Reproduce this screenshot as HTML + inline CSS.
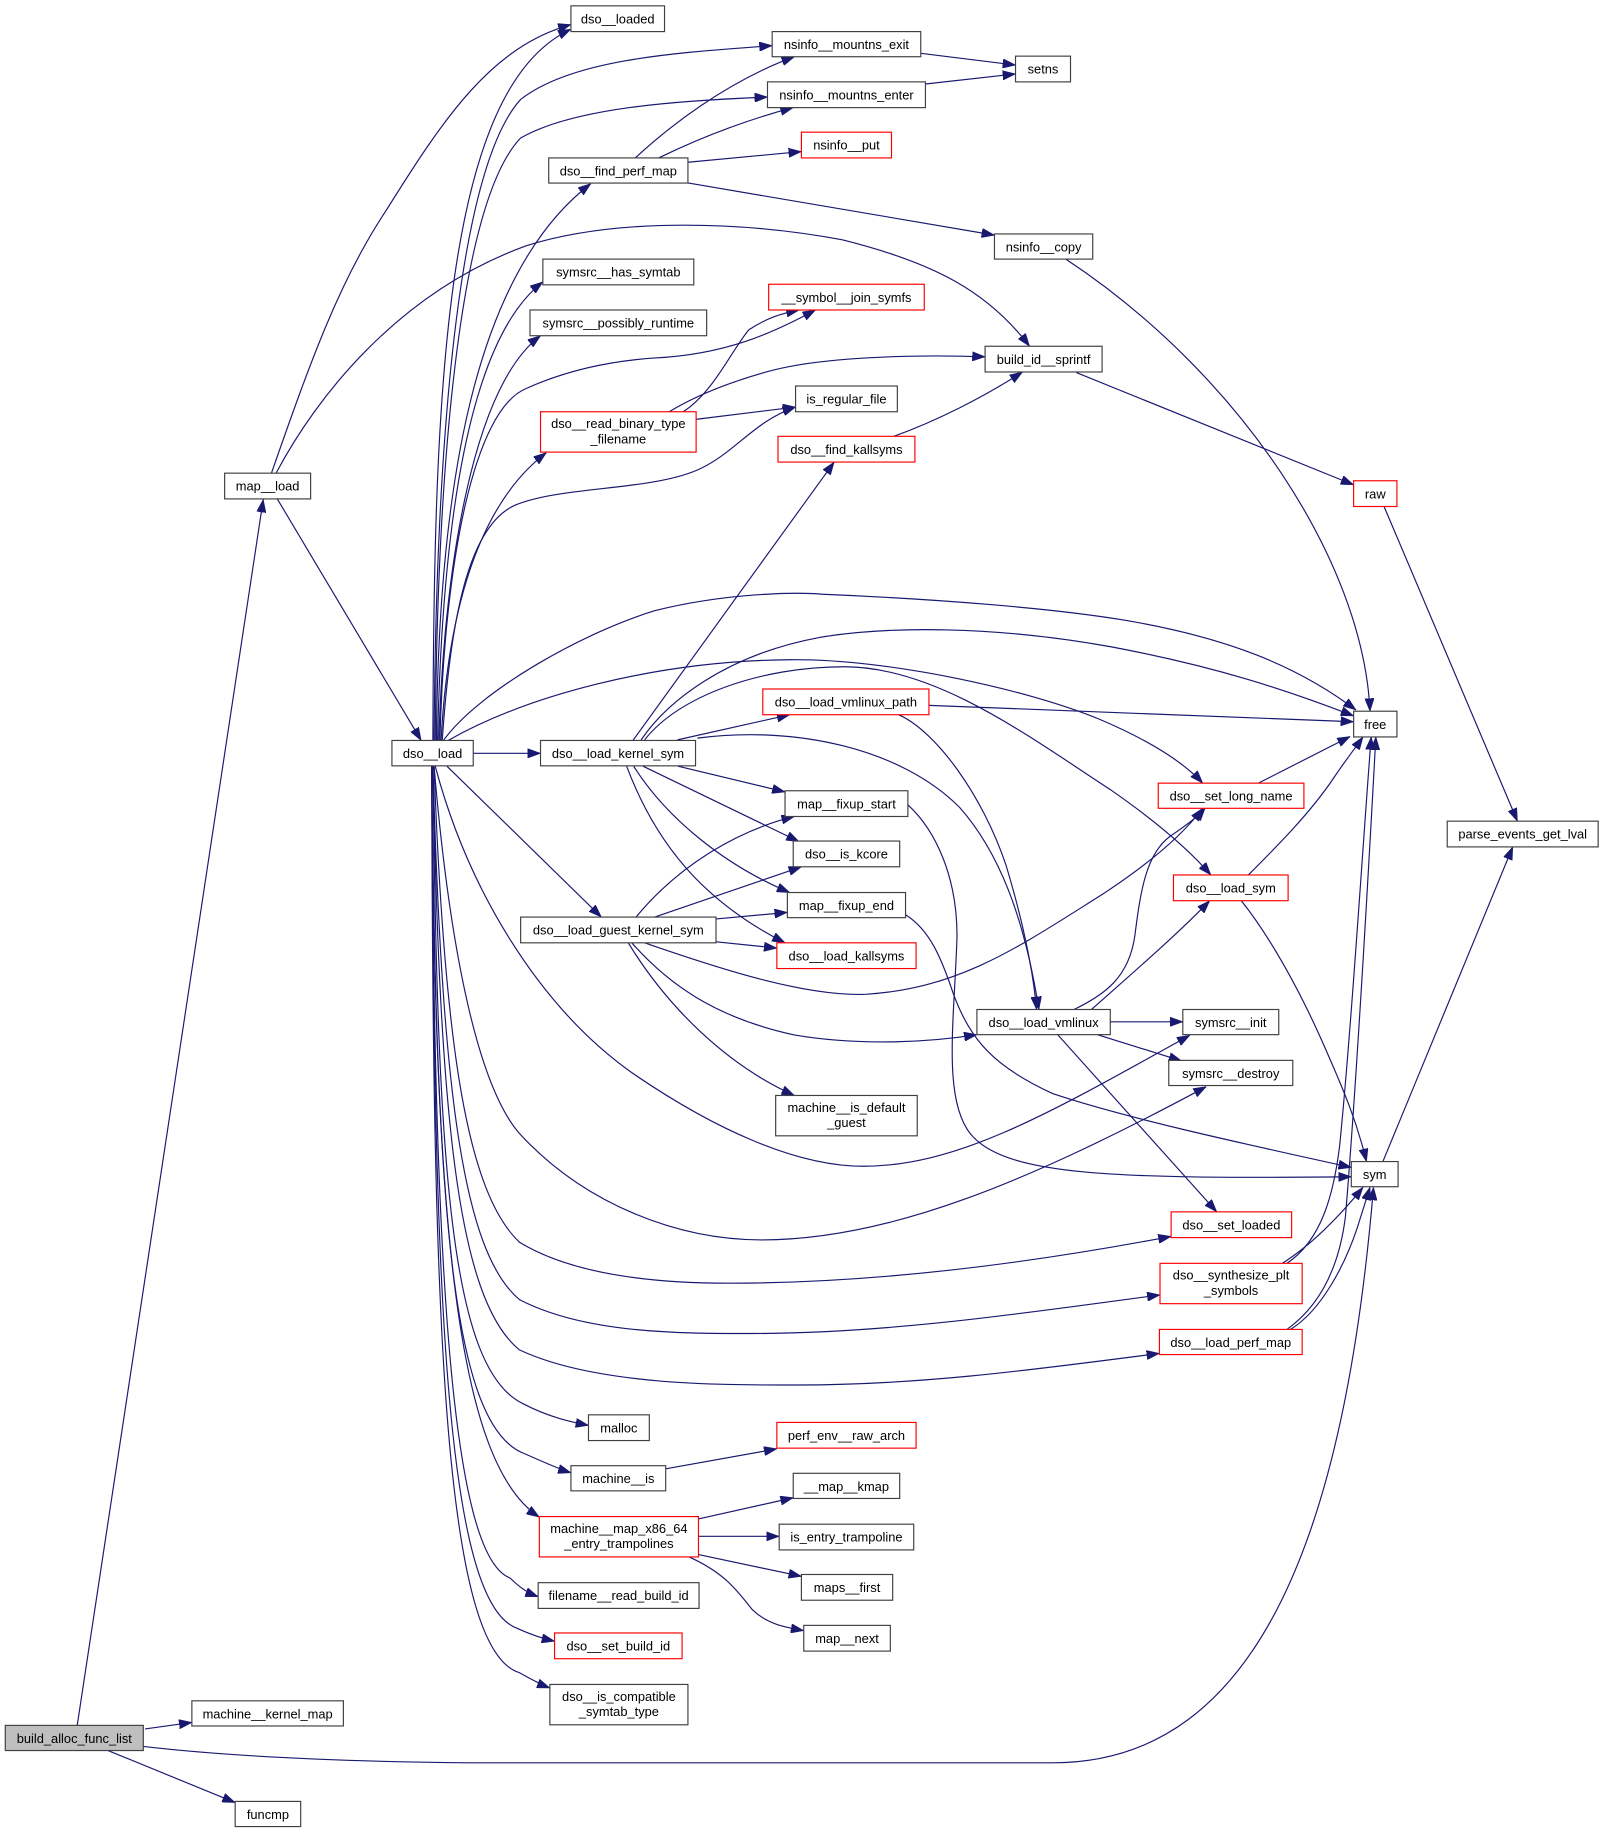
<!DOCTYPE html>
<html>
<head>
<meta charset="utf-8">
<style>
html,body{margin:0;padding:0;background:#fff;}
svg{display:block;}
text{font-family:"Liberation Sans",Arial,sans-serif;font-size:11px;fill:#000;}
.e{fill:none;stroke:#191970;stroke-width:1;}
.n{fill:#fff;stroke:#404040;stroke-width:1;}
.r{fill:#fff;stroke:#ff0000;stroke-width:1;}
.g{fill:#bfbfbf;stroke:#404040;stroke-width:1;}
</style>
</head>
<body>
<svg xmlns="http://www.w3.org/2000/svg" width="1604" height="1833" viewBox="0 0 1371 1567" preserveAspectRatio="none">
<defs>
<marker id="a" viewBox="0 0 11 8" refX="11" refY="4" markerWidth="11" markerHeight="8" markerUnits="userSpaceOnUse" orient="auto">
<path d="M0,0 L11,4 L0,8 z" fill="#191970" stroke="#191970" stroke-width="0.5"/>
</marker>
</defs>
<rect x="0" y="0" width="1371" height="1567" fill="#fff"/>
<g marker-end="url(#a)">
<path class="e" marker-end="url(#a)" d="M66,1475 L225,427"/>
<path class="e" marker-end="url(#a)" d="M124,1478 L164,1472.5"/>
<path class="e" marker-end="url(#a)" d="M92.6,1496.6 L201,1541"/>
<path class="e" marker-end="url(#a)" d="M122.5,1493 C200,1502 300,1506 400,1507 L900,1507 C1080,1507 1150,1300 1174,1015"/>
<path class="e" marker-end="url(#a)" d="M237,426.5 L360,633"/>
<path class="e" marker-end="url(#a)" d="M232,404.5 C265,310 290,240 330,180 C380,100 420,40 488,21"/>
<path class="e" marker-end="url(#a)" d="M236,404.5 C270,340 340,250 450,210 C530,185 640,190 720,205 C800,225 845,250 880,296"/>
<path class="e" marker-end="url(#a)" d="M370,633 C371,330 380,75 488,25"/>
<path class="e" marker-end="url(#a)" d="M371,633 C373,350 395,140 445,85 C490,50 580,45 660,39"/>
<path class="e" marker-end="url(#a)" d="M372,633 C374,380 395,170 445,118 C490,92 580,86 656,83"/>
<path class="e" marker-end="url(#a)" d="M373,633 C375,400 410,230 505,157"/>
<path class="e" marker-end="url(#a)" d="M374,633 C378,450 400,290 464,241"/>
<path class="e" marker-end="url(#a)" d="M375,633 C380,480 405,330 462,287"/>
<path class="e" marker-end="url(#a)" d="M376,633 C380,480 405,350 450,332 C490,314 530,308 560,306 C620,303 660,285 697,265"/>
<path class="e" marker-end="url(#a)" d="M377,633 C383,520 410,430 467,387"/>
<path class="e" marker-end="url(#a)" d="M378,633 C385,530 400,450 440,432 C480,415 560,420 600,400 C630,385 645,360 680,348"/>
<path class="e" marker-end="url(#a)" d="M379,633 C410,590 500,540 560,522 C620,507 680,506 703,508 C800,512 900,520 960,530 C1050,545 1110,570 1159,607"/>
<path class="e" marker-end="url(#a)" d="M383,633 C450,595 560,565 675,564 C760,563 880,590 940,615 C980,632 1010,650 1028,669.5"/>
<path class="e" marker-end="url(#a)" d="M404.5,644 L462,644"/>
<path class="e" marker-end="url(#a)" d="M382,655 L514,784"/>
<path class="e" marker-end="url(#a)" d="M372,655 C400,760 460,860 540,917 C610,965 680,997 738,997 C820,997 900,950 1017,885"/>
<path class="e" marker-end="url(#a)" d="M371,655 C385,820 410,930 444,969 C500,1030 580,1060 651,1060 C760,1060 880,1010 1031,929"/>
<path class="e" marker-end="url(#a)" d="M371,655 C380,900 400,1020 444,1062 C490,1090 560,1097 623,1097 C750,1097 880,1080 1001,1057"/>
<path class="e" marker-end="url(#a)" d="M370,655 C378,930 395,1070 444,1111 C500,1140 580,1140 643,1140 C760,1140 880,1122 991.5,1107"/>
<path class="e" marker-end="url(#a)" d="M370,655 C376,950 390,1110 444,1154 C510,1185 620,1184 683,1184 C790,1184 890,1170 991,1157"/>
<path class="e" marker-end="url(#a)" d="M370,655 C374,1000 385,1170 447,1200 C470,1212 490,1216 503,1218.5"/>
<path class="e" marker-end="url(#a)" d="M369,655 C373,1030 385,1220 449,1243 C465,1250 478,1256 488,1259"/>
<path class="e" marker-end="url(#a)" d="M369,655 C372,1050 390,1250 461,1297"/>
<path class="e" marker-end="url(#a)" d="M369,655 C371,1080 385,1330 436,1349 C445,1358 452,1362 460,1365"/>
<path class="e" marker-end="url(#a)" d="M369,655 C371,1100 380,1370 442,1392 C455,1398 465,1401 474,1403"/>
<path class="e" marker-end="url(#a)" d="M369,655 C370,1120 378,1410 444,1430 C455,1436 462,1440 470,1443"/>
<path class="e" marker-end="url(#a)" d="M541,633 L713,395"/>
<path class="e" marker-end="url(#a)" d="M579,632.5 L675,611"/>
<path class="e" marker-end="url(#a)" d="M548,632.5 C570,600 620,560 700,545 C760,535 850,535 950,553 C1040,570 1100,590 1157,612"/>
<path class="e" marker-end="url(#a)" d="M551,632.5 C580,595 650,570 722,570 C800,570 880,630 949,675 C985,700 1015,725 1035,748"/>
<path class="e" marker-end="url(#a)" d="M596,631 C680,620 770,640 820,690 C860,735 878,800 888,863"/>
<path class="e" marker-end="url(#a)" d="M579.5,655 L671,677"/>
<path class="e" marker-end="url(#a)" d="M549.6,655 L683,719.5"/>
<path class="e" marker-end="url(#a)" d="M541.6,655 C570,700 620,740 675,763"/>
<path class="e" marker-end="url(#a)" d="M535.6,655 C560,720 600,770 671,806"/>
<path class="e" marker-end="url(#a)" d="M543.6,784 C580,740 630,710 679,698"/>
<path class="e" marker-end="url(#a)" d="M559.6,784 L685,741"/>
<path class="e" marker-end="url(#a)" d="M611,785.7 L673,780"/>
<path class="e" marker-end="url(#a)" d="M611,805 L664,810.5"/>
<path class="e" marker-end="url(#a)" d="M540,806 C570,840 610,870 680,885 C740,895 800,890 835,884.5"/>
<path class="e" marker-end="url(#a)" d="M537,806 C570,860 620,910 679,936.5"/>
<path class="e" marker-end="url(#a)" d="M551,806 C620,830 690,852 740,850 C820,845 870,810 940,766 C980,740 1010,715 1028,691"/>
<path class="e" marker-end="url(#a)" d="M794,603 L1157,617"/>
<path class="e" marker-end="url(#a)" d="M768,611 C800,625 840,680 860,740 C875,790 883,830 886,863"/>
<path class="e" marker-end="url(#a)" d="M949,873.5 L1011,873.5"/>
<path class="e" marker-end="url(#a)" d="M938,884.5 L1010,907"/>
<path class="e" marker-end="url(#a)" d="M904,884.5 L1040,1036"/>
<path class="e" marker-end="url(#a)" d="M918,863 C945,850 965,835 970,800 C975,760 980,730 1000,715 C1015,705 1025,697 1030,691"/>
<path class="e" marker-end="url(#a)" d="M933,863 C970,830 1005,800 1034,770"/>
<path class="e" marker-end="url(#a)" d="M776,688 C800,710 818,750 818,800 C816,870 805,940 830,970 C860,1005 950,1008 1155,1006"/>
<path class="e" marker-end="url(#a)" d="M774,782 C795,795 805,820 815,850 C830,890 850,912 900,935 C960,955 1050,975 1155,998"/>
<path class="e" marker-end="url(#a)" d="M1075.6,669.5 L1154,629.6"/>
<path class="e" marker-end="url(#a)" d="M1067,748 C1090,725 1120,695 1140,665 C1150,650 1158,640 1165,630"/>
<path class="e" marker-end="url(#a)" d="M1061,770 C1085,800 1110,845 1130,890 C1150,935 1160,960 1168,993"/>
<path class="e" marker-end="url(#a)" d="M1100,1080 C1130,1060 1140,1020 1145,980 C1155,880 1165,720 1172,630"/>
<path class="e" marker-end="url(#a)" d="M1100,1136.5 C1130,1115 1145,1080 1150,1040 C1160,920 1170,740 1176,630"/>
<path class="e" marker-end="url(#a)" d="M1096,1080 C1120,1065 1145,1040 1165,1015"/>
<path class="e" marker-end="url(#a)" d="M1103,1136.5 C1130,1120 1150,1080 1160,1050 L1171,1015"/>
<path class="e" marker-end="url(#a)" d="M1182,993 L1293,724"/>
<path class="e" marker-end="url(#a)" d="M1183,433 L1297,702"/>
<path class="e" marker-end="url(#a)" d="M920,318.5 L1157,414.5"/>
<path class="e" marker-end="url(#a)" d="M911,221.5 C1060,320 1165,480 1171,608"/>
<path class="e" marker-end="url(#a)" d="M764,373 C800,360 840,340 874,318"/>
<path class="e" marker-end="url(#a)" d="M595.4,358.4 L680,348"/>
<path class="e" marker-end="url(#a)" d="M584,352 C610,335 625,300 640,282 C655,272 668,268 683,265"/>
<path class="e" marker-end="url(#a)" d="M572,352 C600,335 630,325 655,318 C700,305 780,303 842,305"/>
<path class="e" marker-end="url(#a)" d="M543,135 C570,110 620,70 679,48.5"/>
<path class="e" marker-end="url(#a)" d="M563,135 C600,117 640,102 678,92"/>
<path class="e" marker-end="url(#a)" d="M588,138.7 L685,129.6"/>
<path class="e" marker-end="url(#a)" d="M588,156.4 L850,201"/>
<path class="e" marker-end="url(#a)" d="M787,45.6 L868,55.6"/>
<path class="e" marker-end="url(#a)" d="M791,71.8 L868,63.2"/>
<path class="e" marker-end="url(#a)" d="M569,1255.7 L664,1238.6"/>
<path class="e" marker-end="url(#a)" d="M597,1298.5 L678,1280.4"/>
<path class="e" marker-end="url(#a)" d="M597,1313.4 L666,1313.4"/>
<path class="e" marker-end="url(#a)" d="M597,1329 L685,1347.6"/>
<path class="e" marker-end="url(#a)" d="M589,1331 C620,1345 630,1360 643,1376 C655,1388 670,1391 687,1394"/>
</g>

<g>
<rect class="g" x="4.5" y="1475" width="118" height="21.5"/><text x="63.5" y="1490" text-anchor="middle">build_alloc_func_list</text>
<rect class="n" x="164" y="1454" width="129.5" height="21.5"/><text x="228.75" y="1469" text-anchor="middle">machine__kernel_map</text>
<rect class="n" x="201" y="1540" width="56" height="21.5"/><text x="229" y="1555" text-anchor="middle">funcmp</text>
<rect class="n" x="192" y="404.5" width="73.5" height="22"/><text x="228.75" y="419.5" text-anchor="middle">map__load</text>
<rect class="n" x="335" y="633" width="69.5" height="21.7"/><text x="369.75" y="648" text-anchor="middle">dso__load</text>
<rect class="n" x="488" y="5" width="80" height="22"/><text x="528" y="20" text-anchor="middle">dso__loaded</text>
<rect class="n" x="660" y="27" width="127" height="21.5"/><text x="723.5" y="42" text-anchor="middle">nsinfo__mountns_exit</text>
<rect class="n" x="656" y="70" width="135" height="22"/><text x="723.5" y="85" text-anchor="middle">nsinfo__mountns_enter</text>
<rect class="n" x="868" y="48" width="47" height="22"/><text x="891.5" y="63" text-anchor="middle">setns</text>
<rect class="n" x="469" y="135" width="119" height="21.5"/><text x="528.5" y="150" text-anchor="middle">dso__find_perf_map</text>
<rect class="r" x="685" y="113" width="77" height="22"/><text x="723.5" y="128" text-anchor="middle">nsinfo__put</text>
<rect class="n" x="850" y="200" width="84" height="21.5"/><text x="892" y="215" text-anchor="middle">nsinfo__copy</text>
<rect class="n" x="464" y="221.5" width="129" height="22"/><text x="528.5" y="236.5" text-anchor="middle">symsrc__has_symtab</text>
<rect class="n" x="453" y="265" width="151" height="22"/><text x="528.5" y="280" text-anchor="middle">symsrc__possibly_runtime</text>
<rect class="r" x="657" y="243" width="133" height="22"/><text x="723.5" y="258" text-anchor="middle">__symbol__join_symfs</text>
<rect class="n" x="842" y="296" width="100" height="22"/><text x="892" y="311" text-anchor="middle">build_id__sprintf</text>
<rect class="r" x="462" y="352" width="133" height="34.5"/><text x="528.5" y="366" text-anchor="middle">dso__read_binary_type</text><text x="528.5" y="379" text-anchor="middle">_filename</text>
<rect class="n" x="680" y="330" width="87" height="22"/><text x="723.5" y="345" text-anchor="middle">is_regular_file</text>
<rect class="r" x="665" y="373" width="117" height="22"/><text x="723.5" y="388" text-anchor="middle">dso__find_kallsyms</text>
<rect class="r" x="1157" y="411" width="37" height="22"/><text x="1175.5" y="426" text-anchor="middle">raw</text>
<rect class="n" x="1157" y="608" width="37" height="22"/><text x="1175.5" y="623" text-anchor="middle">free</text>
<rect class="n" x="1237" y="702" width="129" height="22"/><text x="1301.5" y="717" text-anchor="middle">parse_events_get_lval</text>
<rect class="r" x="652" y="589" width="142" height="22"/><text x="723" y="604" text-anchor="middle">dso__load_vmlinux_path</text>
<rect class="n" x="462" y="633" width="132.5" height="21.7"/><text x="528.25" y="648" text-anchor="middle">dso__load_kernel_sym</text>
<rect class="r" x="990" y="669.5" width="124.5" height="21.5"/><text x="1052.25" y="684.5" text-anchor="middle">dso__set_long_name</text>
<rect class="n" x="671" y="676" width="105" height="22"/><text x="723.5" y="691" text-anchor="middle">map__fixup_start</text>
<rect class="n" x="678" y="719" width="91" height="22"/><text x="723.5" y="734" text-anchor="middle">dso__is_kcore</text>
<rect class="r" x="1003" y="748" width="98" height="22"/><text x="1052" y="763" text-anchor="middle">dso__load_sym</text>
<rect class="n" x="673" y="763" width="101" height="21.5"/><text x="723.5" y="778" text-anchor="middle">map__fixup_end</text>
<rect class="n" x="445" y="784" width="167" height="22"/><text x="528.5" y="799" text-anchor="middle">dso__load_guest_kernel_sym</text>
<rect class="r" x="664" y="806" width="119" height="22"/><text x="723.5" y="821" text-anchor="middle">dso__load_kallsyms</text>
<rect class="n" x="835" y="863" width="114" height="21.5"/><text x="892" y="878" text-anchor="middle">dso__load_vmlinux</text>
<rect class="n" x="1011" y="863" width="82" height="21.5"/><text x="1052" y="878" text-anchor="middle">symsrc__init</text>
<rect class="n" x="999" y="906.5" width="106" height="21.5"/><text x="1052" y="921.5" text-anchor="middle">symsrc__destroy</text>
<rect class="n" x="663" y="936.5" width="121" height="34.5"/><text x="723.5" y="950.5" text-anchor="middle">machine__is_default</text><text x="723.5" y="963.5" text-anchor="middle">_guest</text>
<rect class="n" x="1155" y="993" width="40" height="21.5"/><text x="1175" y="1008" text-anchor="middle">sym</text>
<rect class="r" x="1001" y="1036" width="103" height="22"/><text x="1052.5" y="1051" text-anchor="middle">dso__set_loaded</text>
<rect class="r" x="991.5" y="1080" width="121.5" height="34.5"/><text x="1052.25" y="1094" text-anchor="middle">dso__synthesize_plt</text><text x="1052.25" y="1107" text-anchor="middle">_symbols</text>
<rect class="r" x="991" y="1136.5" width="122" height="21.5"/><text x="1052" y="1151.5" text-anchor="middle">dso__load_perf_map</text>
<rect class="n" x="503" y="1209.5" width="52" height="22"/><text x="529" y="1224.5" text-anchor="middle">malloc</text>
<rect class="r" x="664" y="1216" width="119" height="22"/><text x="723.5" y="1231" text-anchor="middle">perf_env__raw_arch</text>
<rect class="n" x="488" y="1253" width="81" height="21.5"/><text x="528.5" y="1268" text-anchor="middle">machine__is</text>
<rect class="n" x="678" y="1259.5" width="91" height="21.5"/><text x="723.5" y="1274.5" text-anchor="middle">__map__kmap</text>
<rect class="r" x="461" y="1296.5" width="136" height="34.5"/><text x="529" y="1310.5" text-anchor="middle">machine__map_x86_64</text><text x="529" y="1323.5" text-anchor="middle">_entry_trampolines</text>
<rect class="n" x="666" y="1303" width="115" height="22"/><text x="723.5" y="1318" text-anchor="middle">is_entry_trampoline</text>
<rect class="n" x="685" y="1346" width="78" height="22"/><text x="724" y="1361" text-anchor="middle">maps__first</text>
<rect class="n" x="460" y="1353" width="137.5" height="22"/><text x="528.75" y="1368" text-anchor="middle">filename__read_build_id</text>
<rect class="n" x="687" y="1389.5" width="74" height="22"/><text x="724" y="1404.5" text-anchor="middle">map__next</text>
<rect class="r" x="474" y="1396" width="109" height="22"/><text x="528.5" y="1411" text-anchor="middle">dso__set_build_id</text>
<rect class="n" x="470" y="1440" width="118" height="34.5"/><text x="529" y="1454" text-anchor="middle">dso__is_compatible</text><text x="529" y="1467" text-anchor="middle">_symtab_type</text>
</g>
</svg>
</body>
</html>
